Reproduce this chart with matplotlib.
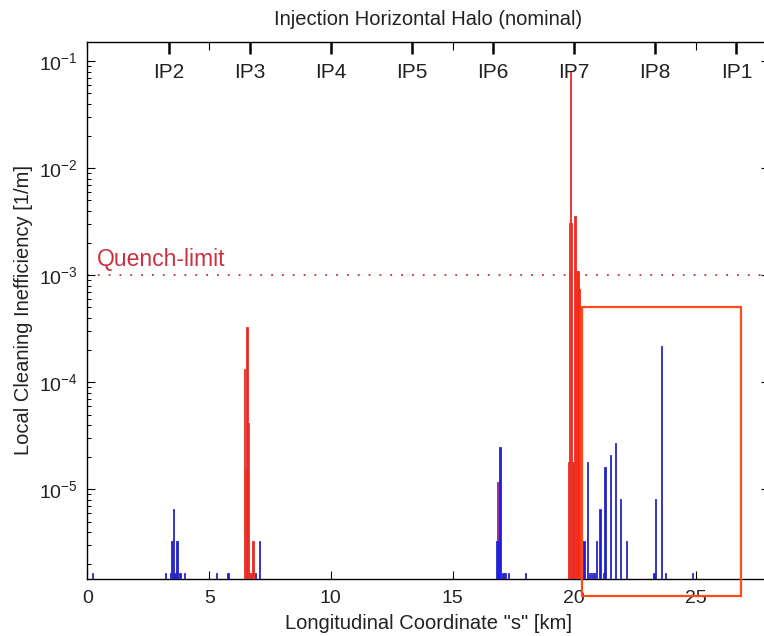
import matplotlib
matplotlib.use("Agg")
import matplotlib.pyplot as plt
from matplotlib.patches import Rectangle
from matplotlib.ticker import LogLocator, FixedLocator, NullFormatter

plt.rcParams['font.family'] = ['Liberation Sans', 'DejaVu Sans']

# ---- data (km, 1/m) ----
blue_s = [0.20, 3.22, 3.40, 3.45, 3.50, 3.55, 3.60, 3.68, 3.80, 3.98, 5.30, 5.77,
          6.90, 7.08, 16.80, 16.87, 16.95, 17.07, 17.12, 17.17, 17.30, 18.00,
          20.30, 20.35, 20.40, 20.56, 20.62, 20.72, 20.78, 20.84, 20.90, 21.06,
          21.20, 21.26, 21.50, 21.70, 21.90, 22.15, 23.28, 23.33, 23.60, 23.74, 24.85]
blue_v = [1.66e-6, 1.66e-6, 1.66e-6, 3.3e-6, 3.3e-6, 6.6e-6, 1.66e-6, 3.3e-6, 1.66e-6, 1.66e-6, 1.66e-6, 1.66e-6,
          1.66e-6, 3.3e-6, 3.3e-6, 3.3e-6, 2.47e-5, 1.66e-6, 1.66e-6, 1.66e-6, 1.66e-6, 1.66e-6,
          3.3e-6, 3.3e-6, 3.3e-6, 1.8e-5, 1.66e-6, 1.66e-6, 1.66e-6, 1.66e-6, 3.3e-6, 6.6e-6,
          1.66e-6, 1.6e-5, 2.1e-5, 2.7e-5, 8.1e-6, 3.3e-6, 1.66e-6, 8.1e-6, 2.17e-4, 1.66e-6, 1.66e-6]

red_s = [6.45, 6.50, 6.55, 6.60, 6.65, 6.70, 6.75, 6.80,
         19.75, 19.80, 19.85, 19.90, 19.95, 20.00, 20.05, 20.10, 20.15, 20.20]
red_v = [1.32e-4, 1.5e-5, 3.3e-4, 4.2e-5, 1.66e-6, 1.66e-6, 1.66e-6, 3.3e-6,
         1.8e-5, 3.1e-3, 0.08, 3.1e-3, 1.8e-5, 3.6e-3, 3.6e-3, 1.1e-3, 1.1e-3, 7.4e-4]

mixed_s = [16.87]
mixed_v = [1.16e-5]

ip_names = ['IP2', 'IP3', 'IP4', 'IP5', 'IP6', 'IP7', 'IP8', 'IP1']
ip_pos = [3.33, 6.66, 9.99, 13.33, 16.66, 19.99, 23.32, 26.66]

quench_limit = 1e-3
box_x = [20.32, 26.85]
box_y = [1.0e-6, 5.0e-4]

xlim = (0, 28)
ylim = (1.453e-6, 0.152)
bin_w = 0.05

# ---- figure ----
fig = plt.figure(figsize=(7.64, 6.36), dpi=100)
ax = fig.add_axes([0.1145, 0.0896, 0.892, 0.8448])
ax.set_yscale('log')
ax.set_xlim(*xlim)
ax.set_ylim(*ylim)

base = ylim[0]
ax.bar(mixed_s, [v - base for v in mixed_v], bottom=base, width=bin_w,
       color='#9a2fa0', edgecolor='#8a2a90', linewidth=0.6, zorder=2)
ax.bar(blue_s, [v - base for v in blue_v], bottom=base, width=bin_w,
       color='#1c1cdc', edgecolor='#2a2ac4', linewidth=0.6, zorder=3)
ax.bar(red_s, [v - base for v in red_v], bottom=base, width=bin_w,
       color='#ff2400', edgecolor='#e8302a', linewidth=0.6, zorder=4)

ax.axhline(quench_limit, color='#d02838', linestyle=(0, (1, 5)), linewidth=1.3, zorder=1)
ax.text(0.4, quench_limit * 1.09, 'Quench-limit', color='#cc3040', fontsize=16.5,
        ha='left', va='bottom')

rect = Rectangle((box_x[0], box_y[0]), box_x[1] - box_x[0], box_y[1] - box_y[0],
                 fill=False, edgecolor='#ff4a1a', linewidth=1.6, clip_on=False, zorder=6)
ax.add_patch(rect)

# ticks
ax.xaxis.set_major_locator(FixedLocator([0, 5, 10, 15, 20, 25]))
ax.yaxis.set_major_locator(LogLocator(base=10, numticks=20))
ax.yaxis.set_minor_locator(LogLocator(base=10, subs=range(2, 10), numticks=20))
ax.yaxis.set_minor_formatter(NullFormatter())
ax.tick_params(which='both', direction='in', top=True, right=True, labelsize=14,
               labelcolor='#222222')
ax.tick_params(axis='x', which='major', length=5.5, width=0.8, pad=8)
ax.tick_params(axis='y', which='major', length=6, width=0.8, pad=7)
ax.tick_params(axis='y', which='minor', length=3, width=0.7)
for sp in ax.spines.values():
    sp.set_linewidth(1.0)

# IP markers on top
sec = ax.secondary_xaxis('top')
sec.set_xticks(ip_pos)
sec.set_xticklabels([])
sec.tick_params(direction='in', length=8.5, width=1.8)
sec.spines['top'].set_visible(False)
for name, pos in zip(ip_names, ip_pos):
    ax.text(pos, 0.96, name, transform=ax.get_xaxis_transform(), ha='center',
            va='top', fontsize=15, color='#222222')

ax.set_title('Injection Horizontal Halo (nominal)', fontsize=14.5, pad=12, color='#222222')
ax.set_xlabel('Longitudinal Coordinate "s" [km]', fontsize=14.5, labelpad=5, color='#222222')
ax.set_ylabel('Local Cleaning Inefficiency [1/m]', fontsize=14.5, labelpad=4, color='#222222')

fig.savefig('out.png', dpi=100)
